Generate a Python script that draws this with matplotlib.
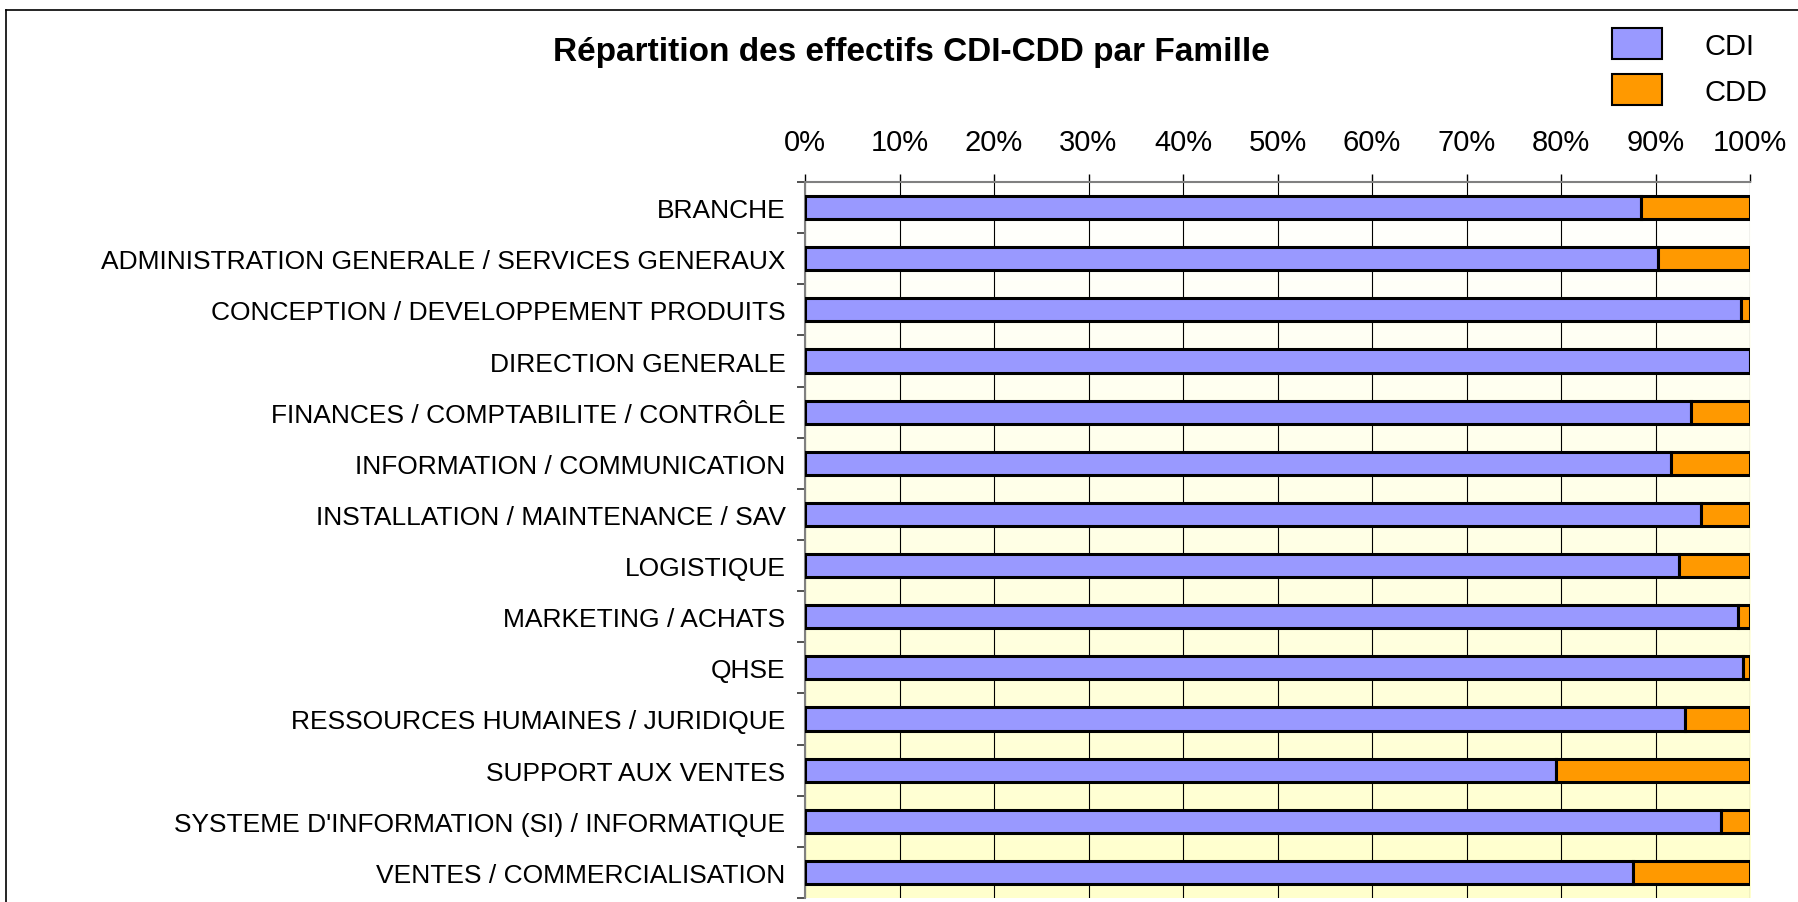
import numpy as np
import matplotlib
matplotlib.use("Agg")
import matplotlib.pyplot as plt
from matplotlib.patches import Rectangle
from matplotlib.lines import Line2D
from matplotlib.colors import LinearSegmentedColormap

familles = [
    "BRANCHE",
    "ADMINISTRATION GENERALE / SERVICES GENERAUX",
    "CONCEPTION / DEVELOPPEMENT PRODUITS",
    "DIRECTION GENERALE",
    "FINANCES / COMPTABILITE / CONTRÔLE",
    "INFORMATION / COMMUNICATION",
    "INSTALLATION / MAINTENANCE / SAV",
    "LOGISTIQUE",
    "MARKETING / ACHATS",
    "QHSE",
    "RESSOURCES HUMAINES / JURIDIQUE",
    "SUPPORT AUX VENTES",
    "SYSTEME D'INFORMATION (SI) / INFORMATIQUE",
    "VENTES / COMMERCIALISATION",
]
cdi = [0.885, 0.903, 0.990, 1.000, 0.938, 0.916, 0.948,
       0.925, 0.987, 0.993, 0.931, 0.795, 0.969, 0.876]
cdd = [1 - v for v in cdi]

W, H = 1798, 903
plt.rcParams["font.family"] = ["Liberation Sans", "DejaVu Sans"]
fig = plt.figure(figsize=(W / 100, H / 100), dpi=100)

def fx(px):
    return px / W

def fy(py):
    return 1 - py / H

# plot area
left, right, top, bottom = 805, 1750, 183, 899
ax = fig.add_axes([fx(left), fy(bottom), fx(right) - fx(left), fy(top) - fy(bottom)])

# background gradient white -> pale yellow
cmap = LinearSegmentedColormap.from_list("bg", ["#ffffff", "#ffffcc"])
grad = np.linspace(0, 1, 256).reshape(-1, 1)
ax.imshow(grad, extent=[0, 1, 13.5, -0.5], aspect="auto", cmap=cmap, zorder=0)

y = np.arange(len(familles))
ax.barh(y, cdi, height=0.45, color="#9999ff", edgecolor="black", linewidth=2.2, zorder=3, label="CDI")
ax.barh(y, cdd, left=cdi, height=0.45, color="#ff9900", edgecolor="black", linewidth=2.2, zorder=3, label="CDD")

ax.set_xlim(0, 1)
ax.set_ylim(13.5, -0.5)

ax.xaxis.tick_top()
ax.set_xticks(np.linspace(0, 1, 11))
ax.set_xticklabels([f"{i}%" for i in range(0, 101, 10)], fontsize=21)
ax.tick_params(axis="x", length=6, width=1, color="black", pad=13)
ax.grid(axis="x", color="black", linewidth=0.8, zorder=1)

ax.set_yticks(y)
ax.set_yticklabels(familles, fontsize=19)
ax.tick_params(axis="y", which="major", length=0, pad=14)
ax.set_yticks(np.arange(-0.5, 14, 1), minor=True)
ax.tick_params(axis="y", which="minor", length=6, width=1.2, color="#333333")

for s in ["right", "bottom"]:
    ax.spines[s].set_visible(False)
for s in ["top", "left"]:
    ax.spines[s].set_color("#808080")
    ax.spines[s].set_linewidth(1.5)

# title
fig.text(fx(911), fy(52), "Répartition des effectifs CDI-CDD par Famille",
         fontsize=24, fontweight="bold", ha="center", va="center")

# legend
narrow = ["Liberation Sans Narrow", "Liberation Sans", "DejaVu Sans"]
for (lab, col, y0) in [("CDI", "#9999ff", 29), ("CDD", "#ff9900", 75)]:
    fig.patches.append(Rectangle((fx(1612), fy(y0 + 31)), fx(1662) - fx(1612), fy(y0) - fy(y0 + 31),
                                 transform=fig.transFigure, facecolor=col, edgecolor="black",
                                 linewidth=1.5))
    fig.text(fx(1704), fy(y0 + 18), lab, fontsize=21, family=narrow, ha="left", va="center")

# outer frame (top and left)
fig.add_artist(Line2D([fx(6), 1], [fy(11), fy(11)], transform=fig.transFigure, color="black", linewidth=1.2))
fig.add_artist(Line2D([fx(6), fx(6)], [0, fy(11)], transform=fig.transFigure, color="black", linewidth=1.2))

fig.savefig("out.png", dpi=100)
